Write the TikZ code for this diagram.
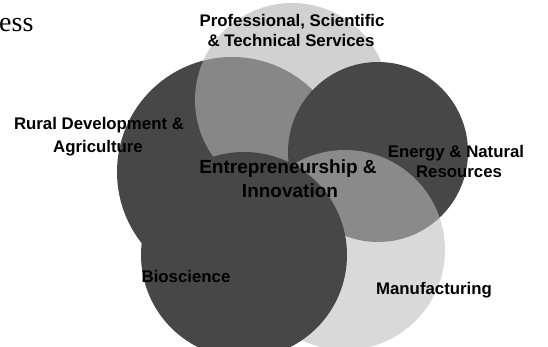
\documentclass[tikz,border=0pt]{standalone}
\usepackage{fontspec}
\setmainfont{Liberation Sans}
\newfontfamily\esserif{Liberation Serif}
\begin{document}
\begin{tikzpicture}[x=1pt,y=-1pt,
  disc/.style={circle,inner sep=0pt,minimum size=#1},
  darkdisc/.style={fill=black!72},
  lightdisc/.style={fill=black!30,fill opacity=0.6},
  lbl/.style={font=\fontsize{16.8}{20}\selectfont\bfseries,anchor=base,inner sep=0pt},
  biglbl/.style={font=\fontsize{19}{22}\selectfont\bfseries,anchor=base,inner sep=0pt}]
\useasboundingbox (0,0) rectangle (548,347);
\clip (0,0) rectangle (548,347);
% circles
\node[disc=230pt,darkdisc] (rural) at (232,172) {};
\node[disc=194pt,lightdisc] (prof) at (292,100) {};
\node[disc=180pt,darkdisc] (energy) at (378,152) {};
\node[disc=200pt,fill=black!26,fill opacity=0.57] (manu) at (345,250) {};
\node[disc=206pt,darkdisc] (bio) at (244,255) {};
% labels
\node[lbl] (p1) at (292,27) {Professional, Scientific};
\node[lbl] (p2) at (291,47) {\& Technical Services};
\node[lbl] (r1) at (99,130) {Rural Development \&};
\node[lbl] (r2) at (98,153) {Agriculture};
\node[biglbl] (e1) at (288,174) {Entrepreneurship \&};
\node[biglbl] (e2) at (290,198) {Innovation};
\node[lbl] (n1) at (456,158) {Energy \& Natural};
\node[lbl] (n2) at (459,178) {Resources};
\node[lbl] (b1) at (186,282) {Bioscience};
\node[lbl] (m1) at (434,294) {Manufacturing};
\node[font=\esserif\fontsize{28}{30}\selectfont,anchor=base west,inner sep=0pt] (ess) at (-1,32) {ess};
\end{tikzpicture}
\end{document}
